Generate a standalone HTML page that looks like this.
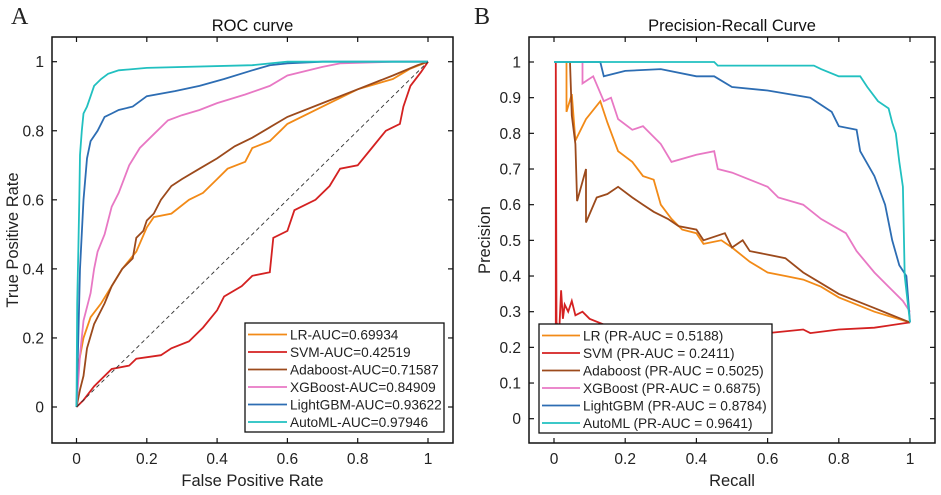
<!DOCTYPE html>
<html><head><meta charset="utf-8">
<style>
html,body{margin:0;padding:0;background:#fff;}
svg{display:block;font-family:"Liberation Sans",Arial,sans-serif;}
</style></head>
<body>
<svg id="fig" width="941" height="495" viewBox="0 0 941 495"></svg>
<script>
// ---------- ROC data ----------
const rocAutoFpr=[0,0.002,0.005,0.008,0.01,0.015,0.02,0.03,0.04,0.05,0.07,0.09,0.12,0.2,0.5,0.6,1];
const rocAutoTpr=[0,0.3,0.45,0.6,0.73,0.8,0.85,0.87,0.9,0.93,0.95,0.965,0.975,0.982,0.99,1,1];
const rocLgbFpr=[0,0.005,0.01,0.02,0.03,0.04,0.06,0.08,0.1,0.12,0.16,0.2,0.28,0.35,0.42,0.5,0.55,0.6,0.7,1];
const rocLgbTpr=[0,0.2,0.4,0.6,0.72,0.77,0.8,0.84,0.85,0.86,0.87,0.9,0.915,0.93,0.95,0.975,0.99,0.995,1,1];
const rocXgbFpr=[0,0.01,0.02,0.04,0.05,0.06,0.08,0.1,0.12,0.15,0.18,0.22,0.26,0.3,0.35,0.4,0.48,0.55,0.6,0.7,0.75,0.9,1];
const rocXgbTpr=[0,0.15,0.25,0.33,0.4,0.45,0.5,0.58,0.62,0.7,0.75,0.79,0.83,0.845,0.86,0.88,0.905,0.93,0.96,0.985,0.995,1,1];
const rocAdaFpr=[0,0.01,0.02,0.03,0.05,0.08,0.1,0.13,0.16,0.17,0.19,0.2,0.22,0.24,0.27,0.3,0.35,0.4,0.45,0.5,0.55,0.6,0.7,0.8,0.9,0.97,1];
const rocAdaTpr=[0,0.05,0.09,0.17,0.24,0.3,0.35,0.4,0.43,0.49,0.51,0.54,0.56,0.6,0.64,0.66,0.69,0.72,0.755,0.78,0.81,0.84,0.88,0.92,0.96,0.99,1];
const rocLrFpr=[0,0.005,0.02,0.04,0.07,0.1,0.13,0.17,0.2,0.22,0.27,0.32,0.36,0.4,0.43,0.48,0.5,0.55,0.58,0.6,0.7,0.8,0.9,0.95,1];
const rocLrTpr=[0,0.12,0.2,0.26,0.3,0.35,0.4,0.45,0.52,0.55,0.56,0.6,0.62,0.66,0.69,0.71,0.75,0.77,0.8,0.82,0.87,0.92,0.95,0.98,1];
const rocSvmFpr=[0,0.02,0.05,0.1,0.15,0.17,0.24,0.27,0.32,0.36,0.4,0.42,0.47,0.5,0.55,0.56,0.6,0.62,0.68,0.72,0.75,0.8,0.84,0.88,0.92,0.93,0.95,0.98,1];
const rocSvmTpr=[0,0.02,0.06,0.11,0.12,0.14,0.15,0.17,0.19,0.23,0.28,0.32,0.35,0.38,0.39,0.49,0.51,0.57,0.6,0.64,0.69,0.7,0.75,0.8,0.82,0.87,0.93,0.97,1];
const rocLabels=["LR-AUC=0.69934","SVM-AUC=0.42519","Adaboost-AUC=0.71587","XGBoost-AUC=0.84909","LightGBM-AUC=0.93622","AutoML-AUC=0.97946"];
// ---------- PR data ----------
const prAutoRec=[0,0.45,0.46,0.73,0.75,0.8,0.86,0.88,0.91,0.94,0.95,0.96,0.97,0.98,0.985,1];
const prAutoPre=[1,1,0.99,0.99,0.98,0.96,0.96,0.93,0.89,0.87,0.83,0.8,0.72,0.65,0.4,0.27];
const prLgbRec=[0,0.13,0.14,0.2,0.3,0.4,0.45,0.5,0.6,0.72,0.78,0.8,0.85,0.86,0.9,0.93,0.95,0.97,0.99,1];
const prLgbPre=[1,1,0.96,0.975,0.98,0.96,0.96,0.93,0.92,0.9,0.86,0.82,0.81,0.75,0.68,0.6,0.5,0.43,0.4,0.27];
const prXgbRec=[0.08,0.08,0.11,0.14,0.16,0.18,0.22,0.25,0.3,0.33,0.4,0.45,0.46,0.5,0.55,0.6,0.63,0.7,0.75,0.82,0.85,0.9,0.94,0.98,1];
const prXgbPre=[1,0.94,0.96,0.89,0.9,0.84,0.81,0.82,0.77,0.72,0.74,0.75,0.7,0.69,0.67,0.65,0.62,0.6,0.56,0.52,0.47,0.41,0.37,0.33,0.3];
const prLrRec=[0.035,0.035,0.05,0.06,0.09,0.13,0.15,0.18,0.22,0.25,0.28,0.3,0.33,0.36,0.4,0.42,0.47,0.5,0.55,0.6,0.65,0.7,0.75,0.8,0.9,1];
const prLrPre=[1,0.86,0.91,0.78,0.84,0.89,0.83,0.75,0.72,0.68,0.67,0.6,0.56,0.53,0.52,0.49,0.5,0.48,0.44,0.41,0.4,0.39,0.37,0.34,0.3,0.27];
const prAdaRec=[0.045,0.05,0.06,0.065,0.09,0.09,0.12,0.15,0.18,0.22,0.25,0.28,0.32,0.35,0.4,0.42,0.48,0.5,0.53,0.55,0.6,0.65,0.7,0.75,0.8,0.9,1];
const prAdaPre=[1,0.85,0.77,0.61,0.7,0.55,0.62,0.63,0.65,0.62,0.6,0.58,0.56,0.54,0.53,0.5,0.52,0.48,0.5,0.47,0.46,0.45,0.41,0.38,0.35,0.31,0.27];
const prSvmRec=[0.005,0.005,0.007,0.015,0.02,0.025,0.03,0.04,0.05,0.06,0.08,0.1,0.2,0.3,0.5,0.6,0.7,0.72,0.8,0.9,1];
const prSvmPre=[0,1,0.27,0.25,0.36,0.28,0.32,0.3,0.33,0.29,0.3,0.28,0.24,0.23,0.24,0.24,0.25,0.24,0.25,0.255,0.27];
const prLabels=["LR (PR-AUC = 0.5188)","SVM (PR-AUC = 0.2411)","Adaboost (PR-AUC = 0.5025)","XGBoost (PR-AUC = 0.6875)","LightGBM (PR-AUC = 0.8784)","AutoML (PR-AUC = 0.9641)"];
const rocXTicks=[0,0.2,0.4,0.6,0.8,1];
const rocYTicks=[0,0.2,0.4,0.6,0.8,1];
const prXTicks=[0,0.2,0.4,0.6,0.8,1];
const prYTicks=[0,0.1,0.2,0.3,0.4,0.5,0.6,0.7,0.8,0.9,1];

const colors=["#f28a17","#d42121","#9c4a1c","#e878c4","#2d6db3","#21c0c0"];
const NS="http://www.w3.org/2000/svg";
const svg=document.getElementById('fig');
function el(tag,attrs,parent){const e=document.createElementNS(NS,tag);for(const k in attrs)e.setAttribute(k,attrs[k]);(parent||svg).appendChild(e);return e;}
function txt(s,attrs,parent){const t=el('text',attrs,parent);t.textContent=s;return t;}

function panel(cfg){
  const g=el('g',{});
  
  
  const sx=v=>cfg.x0+(v-cfg.xmin)*(cfg.x1-cfg.x0)/(cfg.xmax-cfg.xmin);
  const sy=v=>cfg.y0-(v-cfg.ymin)*(cfg.y0-cfg.y1)/(cfg.ymax-cfg.ymin);
  cfg.series.forEach((s,i)=>{
    const pts=s.x.map((xv,j)=>sx(xv).toFixed(1)+','+sy(s.y[j]).toFixed(1)).join(' ');
    const p=el('polyline',{points:pts,fill:'none',stroke:colors[i],'stroke-width':1.8,'stroke-linejoin':'miter'},g);
    
    
  });
  if(cfg.diag){
    const d=el('line',{x1:sx(0),y1:sy(0),x2:sx(1),y2:sy(1),stroke:'#333','stroke-width':0.9,'stroke-dasharray':'4,3'},g);
    
    
  }
  const b=el('rect',{x:cfg.bx0,y:cfg.by0,width:cfg.bx1-cfg.bx0,height:cfg.by1-cfg.by0,fill:'none',stroke:'#111','stroke-width':1.5},g);
  
  
  cfg.xt.forEach(v=>{
    const X=sx(v);
    el('line',{x1:X,y1:cfg.by1,x2:X,y2:cfg.by1-5,stroke:'#111','stroke-width':1.2},g);
    el('line',{x1:X,y1:cfg.by0,x2:X,y2:cfg.by0+5,stroke:'#111','stroke-width':1.2},g);
    const t=txt(String(v),{x:X,y:cfg.by1+21,'font-size':15.5,'text-anchor':'middle',fill:'#222'},g);
    
    
  });
  cfg.yt.forEach(v=>{
    const Y=sy(v);
    el('line',{x1:cfg.bx0,y1:Y,x2:cfg.bx0+5,y2:Y,stroke:'#111','stroke-width':1.2},g);
    el('line',{x1:cfg.bx1,y1:Y,x2:cfg.bx1-5,y2:Y,stroke:'#111','stroke-width':1.2},g);
    const t=txt(String(v),{x:cfg.bx0-8,y:Y+5.5,'font-size':15.5,'text-anchor':'end',fill:'#222'},g);
    
    
  });
  const tt=txt(cfg.title,{x:(cfg.bx0+cfg.bx1)/2,y:31,'font-size':16.5,'text-anchor':'middle',fill:'#111'},g);
  
  
  const xl=txt(cfg.xlabel,{x:(cfg.bx0+cfg.bx1)/2,y:486,'font-size':16.5,'text-anchor':'middle',fill:'#222'},g);
  
  
  const yx=cfg.ylx, yy=(cfg.by0+cfg.by1)/2;
  const yl=txt(cfg.ylabel,{x:yx,y:yy,'font-size':16.5,'text-anchor':'middle',fill:'#222',transform:`rotate(-90 ${yx} ${yy})`},g);
  
  
  const pl=txt(cfg.letter,{x:cfg.lx,y:24,'font-size':24,fill:'#222','font-family':'"Liberation Serif",serif'},g);
  
  
  const L=cfg.leg;
  const lg=el('g',{},g);
  
  
  el('rect',{x:L.x,y:L.y,width:L.w,height:L.h,fill:'#fff',stroke:'#111','stroke-width':1.3},lg);
  cfg.labels.forEach((s,i)=>{
    const ry=L.y+11.5+i*17.5;
    const e=el('g',{},lg);
    
    
    el('line',{x1:L.x+3,y1:ry,x2:L.x+L.lw,y2:ry,stroke:colors[i],'stroke-width':1.8},e);
    txt(s,{x:L.x+L.lw+3,y:ry+5,'font-size':13.7,fill:'#222'},e);
  });
}

panel({name:'roc-chart',title:'ROC curve',xlabel:'False Positive Rate',ylabel:'True Positive Rate',letter:'A',lx:11,ylx:18,
  x0:76.5,x1:428,xmin:0,xmax:1,y0:407,y1:61.7,ymin:0,ymax:1,
  bx0:52,bx1:453,by0:37,by1:443,xt:rocXTicks,yt:rocYTicks,diag:true,
  series:[{name:'lr-roc-line',x:rocLrFpr,y:rocLrTpr},{name:'svm-roc-line',x:rocSvmFpr,y:rocSvmTpr},{name:'adaboost-roc-line',x:rocAdaFpr,y:rocAdaTpr},{name:'xgboost-roc-line',x:rocXgbFpr,y:rocXgbTpr},{name:'lightgbm-roc-line',x:rocLgbFpr,y:rocLgbTpr},{name:'automl-roc-line',x:rocAutoFpr,y:rocAutoTpr}],
  labels:rocLabels,leg:{x:245,y:323,w:199,h:109,lw:42}});
panel({name:'pr-chart',title:'Precision-Recall Curve',xlabel:'Recall',ylabel:'Precision',letter:'B',lx:474,ylx:490,
  x0:554,x1:910,xmin:0,xmax:1,y0:418.7,y1:62,ymin:0,ymax:1,
  bx0:529,bx1:935,by0:37,by1:443,xt:prXTicks,yt:prYTicks,diag:false,
  series:[{name:'lr-pr-line',x:prLrRec,y:prLrPre},{name:'svm-pr-line',x:prSvmRec,y:prSvmPre},{name:'adaboost-pr-line',x:prAdaRec,y:prAdaPre},{name:'xgboost-pr-line',x:prXgbRec,y:prXgbPre},{name:'lightgbm-pr-line',x:prLgbRec,y:prLgbPre},{name:'automl-pr-line',x:prAutoRec,y:prAutoPre}],
  labels:prLabels,leg:{x:539,y:324,w:233,h:109,lw:41}});
</script>
</body></html>
